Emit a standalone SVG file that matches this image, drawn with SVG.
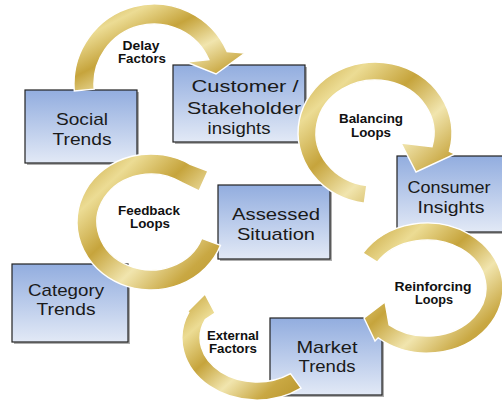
<svg xmlns="http://www.w3.org/2000/svg" width="502" height="401" viewBox="0 0 502 401">
  <defs>
    <linearGradient id="boxFill" x1="0" y1="0" x2="0" y2="1">
      <stop offset="0" stop-color="#92addf"/>
      <stop offset="1" stop-color="#e2e9f6"/>
    </linearGradient>
    <linearGradient id="gold" x1="0" y1="0" x2="1" y2="1">
      <stop offset="0" stop-color="#c4a034"/>
      <stop offset="0.22" stop-color="#ecdc94"/>
      <stop offset="0.42" stop-color="#c6a43c"/>
      <stop offset="0.62" stop-color="#f1e5ae"/>
      <stop offset="0.82" stop-color="#c9a843"/>
      <stop offset="1" stop-color="#b8942c"/>
    </linearGradient>
    <style>
      .shadow { fill: #6b6b6b; opacity: 0.55; }
      .box { fill: url(#boxFill); stroke: #222; stroke-width: 1.2; }
      .txt { font-family: "Liberation Sans", Arial, sans-serif; font-size: 17px; fill: #1a1a1a; text-anchor: middle; }
      .arrow { fill: url(#gold); stroke: #ffffff; stroke-width: 1.4; stroke-linejoin: miter; }
      .lbl { font-family: "Liberation Sans", Arial, sans-serif; font-size: 12px; font-weight: bold; fill: #111; text-anchor: middle; }
    </style>
  </defs>

  <rect width="502" height="401" fill="#ffffff"/>

  <!-- nodes -->
  <g id="social-trends">
    <rect class="shadow" x="27" y="92" width="112" height="73"/>
    <rect class="box" x="25" y="90" width="112" height="73"/>
    <text class="txt" x="82" y="125" textLength="52" lengthAdjust="spacingAndGlyphs">Social</text>
    <text class="txt" x="82" y="145" textLength="59" lengthAdjust="spacingAndGlyphs">Trends</text>
  </g>

  <g id="customer-insights">
    <rect class="shadow" x="175" y="67" width="132" height="77"/>
    <rect class="box" x="173" y="65" width="132" height="77"/>
    <text class="txt" x="245" y="92" textLength="107" lengthAdjust="spacingAndGlyphs">Customer /</text>
    <text class="txt" x="244" y="114" textLength="114" lengthAdjust="spacingAndGlyphs">Stakeholder</text>
    <text class="txt" x="239" y="134" textLength="63" lengthAdjust="spacingAndGlyphs">insights</text>
  </g>

  <g id="consumer-insights">
    <rect class="shadow" x="399" y="158" width="120" height="76"/>
    <rect class="box" x="397" y="156" width="120" height="76"/>
    <text class="txt" x="449" y="193" textLength="83" lengthAdjust="spacingAndGlyphs">Consumer</text>
    <text class="txt" x="451" y="213" textLength="67" lengthAdjust="spacingAndGlyphs">Insights</text>
  </g>

  <g id="assessed-situation">
    <rect class="shadow" x="220" y="187" width="112" height="74"/>
    <rect class="box" x="218" y="185" width="112" height="74"/>
    <text class="txt" x="276" y="220" textLength="88" lengthAdjust="spacingAndGlyphs">Assessed</text>
    <text class="txt" x="276" y="240" textLength="78" lengthAdjust="spacingAndGlyphs">Situation</text>
  </g>

  <g id="category-trends">
    <rect class="shadow" x="14" y="266" width="116" height="78"/>
    <rect class="box" x="12" y="264" width="116" height="78"/>
    <text class="txt" x="66" y="296" textLength="76" lengthAdjust="spacingAndGlyphs">Category</text>
    <text class="txt" x="66" y="315" textLength="59" lengthAdjust="spacingAndGlyphs">Trends</text>
  </g>

  <g id="market-trends">
    <rect class="shadow" x="272" y="320" width="112" height="77"/>
    <rect class="box" x="270" y="318" width="112" height="77"/>
    <text class="txt" x="327" y="353" textLength="61" lengthAdjust="spacingAndGlyphs">Market</text>
    <text class="txt" x="327" y="372" textLength="57" lengthAdjust="spacingAndGlyphs">Trends</text>
  </g>

  <!-- connectors: curved gold arrows drawn over the boxes -->
  <g id="connectors">
    <path id="arrow-delay" class="arrow" d="M74.3,91 A80,80 0 0 1 227.1,51.5 L245,53 L216,74 L186,62 L208.8,59.6 A60,60 0 0 0 94.2,89.2 Z"/>
    <path id="arrow-balancing" class="arrow" d="M364.3,203.3 A77,71 0 1 1 449.4,151.4 L455,154 L416,172 L401,143 L432,146.7 A59,53 0 1 0 366.8,185.5 Z"/>
    <path id="arrow-feedback" class="arrow" d="M220.5,245.3 A74,68 0 1 1 190.2,164.3 L208,171 L199,191 L182,182.7 A54,48 0 1 0 201.7,238.4 Z"/>
    <path id="arrow-reinforcing" class="arrow" d="M362.9,253.1 A76,65 0 1 1 378.1,337.8 L375,341 L364,318 L385,302 L389.1,324.8 A59,48 0 1 0 377.2,262.2 Z"/>
    <path id="arrow-external" class="arrow" d="M301.1,388.2 A75,62 0 0 1 189,311.8 L181,318 L205,294 L215,313 L205.4,319.4 A57,44 0 0 0 290.5,373.6 Z"/>

    <text class="lbl" x="141" y="50" textLength="37" lengthAdjust="spacingAndGlyphs">Delay</text>
    <text class="lbl" x="142" y="63" textLength="48" lengthAdjust="spacingAndGlyphs">Factors</text>

    <text class="lbl" x="371" y="123" textLength="64" lengthAdjust="spacingAndGlyphs">Balancing</text>
    <text class="lbl" x="371" y="137" textLength="40" lengthAdjust="spacingAndGlyphs">Loops</text>

    <text class="lbl" x="149" y="215" textLength="62" lengthAdjust="spacingAndGlyphs">Feedback</text>
    <text class="lbl" x="150" y="228" textLength="40" lengthAdjust="spacingAndGlyphs">Loops</text>

    <text class="lbl" x="433" y="291" textLength="77" lengthAdjust="spacingAndGlyphs">Reinforcing</text>
    <text class="lbl" x="434" y="304" textLength="38" lengthAdjust="spacingAndGlyphs">Loops</text>

    <text class="lbl" x="233" y="340" textLength="52" lengthAdjust="spacingAndGlyphs">External</text>
    <text class="lbl" x="233" y="353" textLength="48" lengthAdjust="spacingAndGlyphs">Factors</text>
  </g>
</svg>
